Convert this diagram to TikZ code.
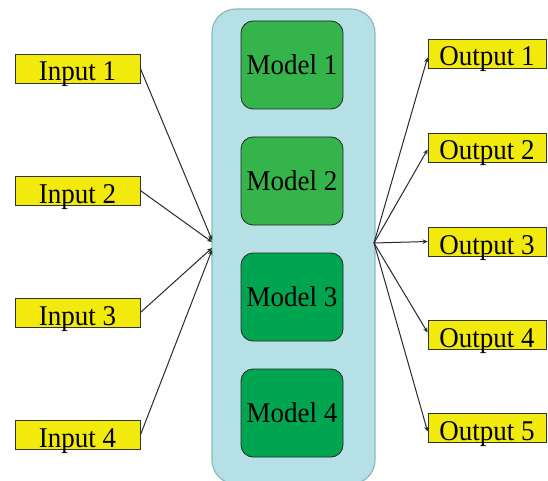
\documentclass[tikz,border=0pt]{standalone}
\usepackage{fontspec}
\setmainfont{Liberation Serif}
\usetikzlibrary{arrows.meta}
\definecolor{contfill}{HTML}{B5E0E6}
\definecolor{contline}{HTML}{8DB9C0}
\definecolor{gA}{HTML}{35B44B}
\definecolor{gB}{HTML}{00A551}
\definecolor{ylw}{HTML}{F1EA0C}
\definecolor{arr}{HTML}{2A2A2A}
\newcommand{\tallt}[1]{\raisebox{-3.5pt}{\scalebox{1}[1.06]{#1}}}
\tikzset{
  iobox/.style={draw=black!80, fill=ylw, line width=0.8pt, minimum height=29pt, text height=18pt, text depth=0pt, inner sep=0pt, font=\fontsize{27}{27}\selectfont},
  modelbox/.style={draw=black!85, line width=0.8pt, rounded corners=12pt, minimum width=102pt, minimum height=88pt, inner sep=0pt, font=\fontsize{27}{27}\selectfont},
  conn/.style={draw=arr, line width=1pt, -{Stealth[length=5pt,width=4.5pt]}}
}
\begin{document}
\begin{tikzpicture}[x=1pt,y=-1pt]
\useasboundingbox (0,0) rectangle (548,481);
\fill[white] (0,0) rectangle (548,481);
% container
\draw[draw=contline, fill=contfill, line width=1.2pt, rounded corners=24pt] (212,9) rectangle (375,484);
\coordinate (c1) at (212,240);
\coordinate (c2) at (212,242);
\coordinate (c3) at (212,248);
\coordinate (c4) at (212,250);
\coordinate (co) at (374,243);
% models
\node[modelbox, fill=gA] (m1) at (292,65) {\tallt{Model 1}};
\node[modelbox, fill=gA] (m2) at (292,181) {\tallt{Model 2}};
\node[modelbox, fill=gB] (m3) at (292,297) {\tallt{Model 3}};
\node[modelbox, fill=gB] (m4) at (292,413) {\tallt{Model 4}};
% inputs
\node[iobox, minimum width=125pt] (i1) at (77.5,68.5) {\tallt{Input 1}};
\node[iobox, minimum width=125pt] (i2) at (77.5,190.5) {\tallt{Input 2}};
\node[iobox, minimum width=125pt] (i3) at (77.5,312.5) {\tallt{Input 3}};
\node[iobox, minimum width=125pt] (i4) at (77.5,435) {\tallt{Input 4}};
% outputs
\node[iobox, minimum width=118pt] (o1) at (487,53.5) {\tallt{Output 1}};
\node[iobox, minimum width=118pt] (o2) at (487,147.5) {\tallt{Output 2}};
\node[iobox, minimum width=118pt] (o3) at (487,241.5) {\tallt{Output 3}};
\node[iobox, minimum width=118pt] (o4) at (487,334.5) {\tallt{Output 4}};
\node[iobox, minimum width=118pt] (o5) at (487,427.5) {\tallt{Output 5}};
% connectors
\draw[conn] (i1.east) -- (c1);
\draw[conn] (i2.east) -- (c2);
\draw[conn] (i3.east) -- (c3);
\draw[conn] (i4.east) -- (c4);
\draw[conn] (co) -- ([yshift=-4pt]o1.west);
\draw[conn] (co) -- ([yshift=-2pt]o2.west);
\draw[conn] (co) -- (o3.west);
\draw[conn] (co) -- ([yshift=2pt]o4.west);
\draw[conn] (co) -- ([yshift=-4pt]o5.west);
\end{tikzpicture}
\end{document}
